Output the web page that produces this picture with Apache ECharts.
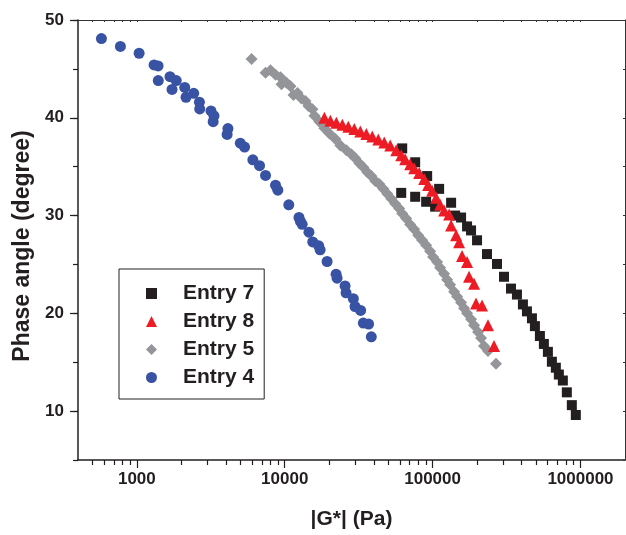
<!DOCTYPE html>
<html><head><meta charset="utf-8">
<script src="https://cdn.jsdelivr.net/npm/echarts@6/dist/echarts.min.js"></script>
<style>html,body{margin:0;padding:0;background:#fff}#c{width:626px;height:535px}</style>
</head><body><div id="c"></div>
<script>
// Series names (legend order)
const seriesNames = ['Entry 7', 'Entry 8', 'Entry 5', 'Entry 4'];

// Entry 7: [|G*| (Pa), phase angle (deg)]
const entry7 = [[62291,36.87],[76220,35.45],[91880,34.04],[110680,32.73],[61349,32.32],[76220,31.92],[90438,31.41],[104020,30.91],[133400,31.31],[141950,30.0],[155800,29.8],[171000,28.89],[181970,28.48],[199770,27.47],[233300,26.06],[272600,25.05],[303900,23.74],[338800,22.53],[371800,21.92],[408100,20.91],[434400,20.2],[469500,19.49],[491800,18.69],[531600,17.68],[565600,16.87],[602000,16.06],[640500,15.05],[681400,14.44],[714100,13.74],[759800,13.13],[808600,11.92],[873900,10.61],[929900,9.6]];

// Entry 8
const entry8 = [[18545,40.0],[20361,39.7],[22355,39.49],[24533,39.29],[26925,39.09],[29556,38.84],[32446,38.59],[35623,38.33],[39091,38.08],[42919,37.78],[47112,37.47],[51717,37.17],[56754,36.67],[61349,36.16],[65262,35.76],[70528,35.25],[75047,34.85],[81140,34.34],[87700,33.74],[93300,33.13],[99290,32.53],[105660,31.82],[112410,31.11],[119640,30.51],[129330,30.1],[133400,28.99],[144170,27.98],[151060,27.27],[158260,25.86],[171000,25.25],[176400,23.74],[190640,23.03],[196640,21.01],[215900,20.81],[236970,18.79],[260200,16.67]];

// Entry 5
const entry5 = [[5967,46.0],[7418,44.6],[8017,44.85],[8664,44.39],[9365,44.14],[9511,43.43],[10278,43.59],[10938,43.23],[11460,42.32],[12197,42.53],[12978,41.97],[13807,41.72],[14470,41.21],[15394,40.86],[15880,40.2],[17163,39.6],[18545,38.94],[20045,38.38],[22007,37.83],[23781,37.17],[26111,36.67],[28216,36.26],[30021,35.86],[31945,35.35],[34001,34.95],[36176,34.44],[38501,34.04],[40961,33.54],[43590,33.23],[46378,32.73],[49345,32.22],[52505,31.72],[55866,31.21],[59443,30.71],[62291,30.2],[66283,29.7],[70528,29.09],[75047,28.59],[79870,27.98],[84996,27.47],[90438,26.97],[96249,26.36],[100829,25.76],[107300,25.25],[112410,24.65],[119640,24.04],[125330,23.43],[131320,22.93],[139750,22.22],[146420,21.72],[155800,21.11],[163270,20.51],[171000,20.0],[181970,19.39],[190640,18.79],[202890,18.08],[212580,17.47],[222710,16.67],[236970,16.16],[268440,14.85]];

// Entry 4
const entry4 = [[576,48.1],[774,47.3],[1036,46.6],[1308,45.4],[1392,45.3],[1396,43.8],[1675,44.2],[1847,43.8],[1730,42.9],[2108,43.1],[2424,42.5],[2150,42.1],[2649,41.6],[2661,40.9],[3171,40.7],[3323,40.2],[3281,39.6],[4129,38.9],[4078,38.3],[5007,37.4],[5353,37.0],[6088,35.7],[6757,35.1],[7418,34.1],[8664,33.1],[8982,32.6],[10654,31.1],[12484,29.8],[12778,29.4],[13120,29.1],[14581,28.3],[15466,27.3],[16981,26.9],[17356,26.5],[19344,25.3],[22246,24.0],[22594,23.6],[25586,22.8],[25984,22.1],[29107,21.5],[29881,20.7],[32604,20.3],[34001,19.0],[36921,18.9],[38501,17.6]];

// Axis ticks
const xMajorTicks = [1000, 10000, 100000, 1000000];
const xMinorTicks = [500,600,700,800,900,2000,3000,4000,5000,6000,7000,8000,9000,20000,30000,40000,50000,60000,70000,80000,90000,200000,300000,400000,500000,600000,700000,800000,900000];
const yMajorTicks = [10, 20, 30, 40, 50];

const FONT = "'Liberation Sans', Arial, Helvetica, sans-serif";
const INK = '#231f20';

const chart = echarts.init(document.getElementById('c'), null, {renderer: 'canvas'});

const baseX = {type: 'log', logBase: 10, min: 400, max: 2000000, splitLine: {show: false}, minorSplitLine: {show: false}};
const baseY = {type: 'value', min: 5, max: 50, interval: 5, splitLine: {show: false}};

chart.setOption({
  animation: false,
  backgroundColor: '#ffffff',
  grid: {left: 78, right: 1, top: 20, bottom: 69, containLabel: false},
  legend: {
    data: seriesNames,
    orient: 'vertical',
    left: 119, top: 269,
    itemWidth: 11, itemHeight: 11, itemGap: 7,
    padding: [14, 10, 11, 27],
    borderColor: INK, borderWidth: 1,
    textStyle: {fontFamily: FONT, fontWeight: 'bold', fontSize: 21, color: INK, padding: [0, 0, 0, 21]}
  },
  xAxis: [
    Object.assign({}, baseX, {
      position: 'bottom',
      name: '|G*| (Pa)', nameLocation: 'middle', nameGap: 49,
      nameTextStyle: {fontFamily: FONT, fontWeight: 'bold', fontSize: 21, color: INK},
      axisLine: {show: true, lineStyle: {color: INK, width: 1.5}},
      axisTick: {show: true, inside: false, length: 8, customValues: xMajorTicks, lineStyle: {color: INK, width: 1.2}},
      axisLabel: {show: true, customValues: xMajorTicks, margin: 11, fontFamily: FONT, fontWeight: 'bold', fontSize: 17, color: INK,
        formatter: v => { const l = Math.log10(v); return Math.abs(l - Math.round(l)) < 1e-6 && l >= 3 && l <= 6 ? String(Math.round(v)) : ''; }}
    }),
    Object.assign({}, baseX, {
      position: 'bottom',
      axisLine: {show: false},
      axisTick: {show: true, inside: false, length: 5, customValues: xMinorTicks, lineStyle: {color: INK, width: 1.2}},
      axisLabel: {show: false}
    }),
    Object.assign({}, baseX, {
      position: 'top',
      axisLine: {show: true, lineStyle: {color: '#333333', width: 1}},
      axisTick: {show: true, inside: true, length: 2, customValues: xMajorTicks.concat(xMinorTicks), lineStyle: {color: '#333333', width: 1}},
      axisLabel: {show: false}
    })
  ],
  yAxis: [
    Object.assign({}, baseY, {
      position: 'left',
      name: 'Phase angle (degree)', nameLocation: 'middle', nameGap: 44,
      nameTextStyle: {fontFamily: FONT, fontWeight: 'bold', fontSize: 23, color: INK, padding: [0, 12, 0, 0]},
      axisLine: {show: true, lineStyle: {color: INK, width: 1.5}},
      axisTick: {show: true, inside: false, length: 5, lineStyle: {color: INK, width: 1.2}},
      axisLabel: {show: true, customValues: yMajorTicks, margin: 14, fontFamily: FONT, fontWeight: 'bold', fontSize: 17, color: INK,
        formatter: v => (v % 10 === 0 ? String(v) : '')}
    }),
    Object.assign({}, baseY, {
      position: 'left',
      axisLine: {show: false},
      axisTick: {show: true, inside: false, length: 8, customValues: yMajorTicks, lineStyle: {color: INK, width: 1.2}},
      axisLabel: {show: false}
    }),
    Object.assign({}, baseY, {
      position: 'right',
      axisLine: {show: true, lineStyle: {color: '#333333', width: 1}},
      axisTick: {show: true, inside: true, length: 2, lineStyle: {color: '#333333', width: 1}},
      axisLabel: {show: false}
    })
  ],
  series: [
    {name: 'Entry 7', type: 'scatter', xAxisIndex: 0, yAxisIndex: 0, symbol: 'rect', symbolSize: 10, data: entry7, itemStyle: {color: INK, opacity: 1}, z: 2},
    {name: 'Entry 5', type: 'scatter', xAxisIndex: 0, yAxisIndex: 0, symbol: 'diamond', symbolSize: 12, data: entry5, itemStyle: {color: '#939598', opacity: 1}, z: 3},
    {name: 'Entry 8', type: 'scatter', xAxisIndex: 0, yAxisIndex: 0, symbol: 'triangle', symbolSize: 12, data: entry8, itemStyle: {color: '#ed1c24', opacity: 1}, z: 4},
    {name: 'Entry 4', type: 'scatter', xAxisIndex: 0, yAxisIndex: 0, symbol: 'circle', symbolSize: 11, data: entry4, itemStyle: {color: '#3953a4', opacity: 1}, z: 5}
  ]
});
</script></body></html>
